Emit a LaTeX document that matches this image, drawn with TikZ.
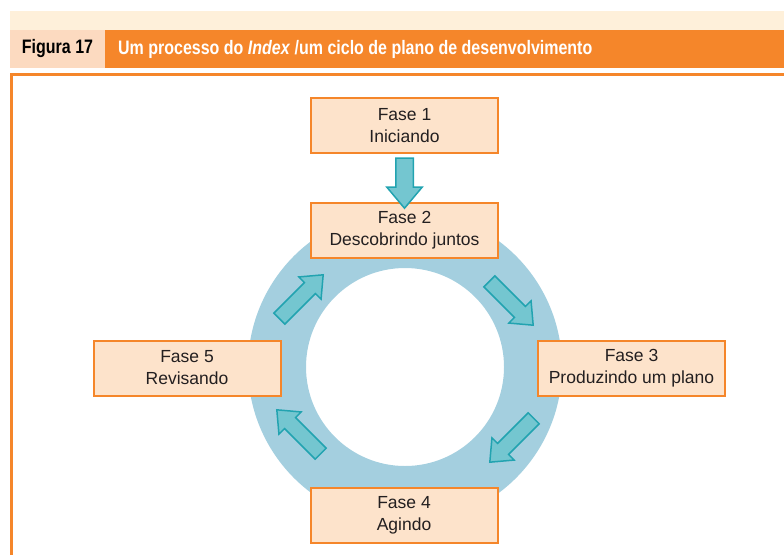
\documentclass[tikz,border=0pt]{standalone}
\usepackage{fontspec}
\setmainfont{Liberation Sans}
\newfontfamily\estreita[FakeStretch=0.82]{Liberation Sans}
\usepackage{tikz}
\usetikzlibrary{shapes.arrows,calc}
\definecolor{laranja}{HTML}{F5862A}
\definecolor{pessego}{HTML}{FDE3CB}
\definecolor{rotulo}{HTML}{FCDAC0}
\definecolor{creme}{HTML}{FEF0DA}
\definecolor{azulanel}{HTML}{A4CFDF}
\definecolor{setafundo}{HTML}{74C6D0}
\definecolor{setalinha}{HTML}{22A3B0}
\definecolor{texto}{HTML}{231F20}

\begin{document}
\begin{tikzpicture}
    [every node/.style={inner sep=0pt},
     fase/.style={rectangle, minimum width=187pt, minimum height=55pt, fill=pessego, draw=laranja, line width=2pt, align=center, font=\fontsize{17.5pt}{22pt}\selectfont, text=texto},
     seta/.style={single arrow, fill=setafundo, draw=setalinha, line width=1.5pt, single arrow tip angle=80},
     setaciclo/.style={seta, inner sep=7pt, minimum height=62pt, single arrow head extend=8pt}]
        \useasboundingbox (0pt, 0pt) rectangle (784pt, -554pt);
        % faixa do titulo
        \fill [creme] (10pt, -11pt) rectangle (784pt, -29.5pt);
        \node (figura) [rectangle, minimum width=95pt, minimum height=38.5pt, fill=rotulo] at (57.5pt, -49pt) {\estreita\fontsize{19.5pt}{22pt}\selectfont\bfseries\textcolor{black}{Figura 17}};
        \node (titulo) [rectangle, minimum width=679pt, minimum height=38.5pt, fill=laranja] at (444.5pt, -49pt) {};
        \node (tituloTexto) [anchor=west] at (118pt, -49pt) {\estreita\fontsize{19.5pt}{22pt}\selectfont\bfseries\textcolor{white}{Um processo do \textit{Index} /um ciclo de plano de desenvolvimento}};
        \draw [laranja, line width=3pt] (11.5pt, -560pt) -- (11.5pt, -74.5pt) -- (790pt, -74.5pt);
        % anel do ciclo
        \fill [azulanel, even odd rule] (405pt, -367pt) circle (157pt) (405pt, -367pt) circle (99pt);
        \node (fase1) [fase] at (404.5pt, -125.5pt) {Fase 1\\Iniciando};
        \node (fase2) [fase] at (404.5pt, -230.5pt) {Fase 2\\Descobrindo juntos};
        \node (fase3) [fase] at (631.5pt, -368.5pt) {Fase 3\\Produzindo um plano};
        \node (fase4) [fase] at (404pt, -515.5pt) {Fase 4\\Agindo};
        \node (fase5) [fase] at (187pt, -368pt) {Fase 5\\Revisando};
        \node (seta12) [seta, rotate=-90, inner sep=8pt, minimum height=50pt, single arrow head extend=9pt] at ($(fase1.south)!0.5!(fase2.north)$) {};
        \node (seta23) [setaciclo, rotate=-45] at (508pt, -300pt) {};
        \node (seta34) [setaciclo, rotate=-135] at (515pt, -437pt) {};
        \node (seta45) [setaciclo, rotate=135] at (302pt, -435pt) {};
        \node (seta52) [setaciclo, rotate=45] at (298pt, -300pt) {};
    \end{tikzpicture}
\end{document}
